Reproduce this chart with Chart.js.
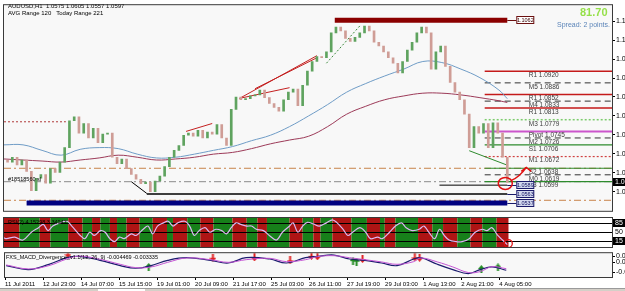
<!DOCTYPE html>
<html>
<head>
<meta charset="utf-8">
<title>AUDUSD H1</title>
<script src="https://cdn.jsdelivr.net/npm/chart.js@4.4.1/dist/chart.umd.min.js"></script>
<style>
  html, body { margin: 0; padding: 0; background: #fff; }
  #wrap { position: relative; width: 625px; height: 291px; overflow: hidden; background: #fff;
          font-family: "Liberation Sans", Arial, sans-serif; }
  #wrap canvas { position: absolute; left: 0; }
  .lbl { position: absolute; white-space: nowrap; line-height: 1; }
  #tabs { position: absolute; left: 0; top: 288px; width: 625px; height: 3px; background: #d4d0c8; border-top: 1px solid #9a9a9a; }
  #tabs div { position: absolute; left: 98px; top: 0; width: 47px; height: 3px; background: #fff; }
</style>
</head>
<body>
<div id="wrap">
  <canvas id="priceChart" width="625" height="216" style="top:0"></canvas>
  <canvas id="oscChart" width="625" height="32" style="top:216px"></canvas>
  <canvas id="macdChart" width="625" height="40" style="top:248px"></canvas>
  <div class="lbl" style="left:580px;top:7px;font-size:11px;font-weight:bold;color:#96e04a">81.70</div>
  <div class="lbl" style="left:557px;top:21px;font-size:7px;color:#5b84b8">Spread: 2 points.</div>
  <div id="tabs"><div></div></div>
</div>
<script>
'use strict';

// ---- values ----
// closes every 4 hourly bars, from 11 Jul 2011 to 4 Aug 2011
var closes = [
  1.0656, 1.0670, 1.0648, 1.0662, 1.0629, 1.0573, 1.0609, 1.0620, 1.0595, 1.0637,
  1.0626, 1.0656, 1.0698, 1.0776, 1.0787, 1.0740, 1.0768, 1.0726, 1.0754, 1.0712,
  1.0737, 1.0740, 1.0670, 1.0651, 1.0665, 1.0637, 1.0620, 1.0606, 1.0593, 1.0598,
  1.0570, 1.0601, 1.0615, 1.0643, 1.0670, 1.0690, 1.0704, 1.0734, 1.0740, 1.0731,
  1.0748, 1.0726, 1.0743, 1.0737, 1.0765, 1.0726, 1.0704, 1.0809, 1.0845, 1.0837,
  1.0840, 1.0848, 1.0851, 1.0865, 1.0843, 1.0826, 1.0815, 1.0804, 1.0837, 1.0859,
  1.0868, 1.0820, 1.0879, 1.0920, 1.0948, 1.0962, 1.0959, 1.0976, 1.1031, 1.1048,
  1.1037, 1.1015, 1.1006, 1.1018, 1.1031, 1.1051, 1.1037, 1.1004, 1.0993, 1.0976,
  1.0959, 1.0943, 1.0915, 1.0948, 1.0981, 1.1004, 1.1031, 1.1048, 1.1031, 1.0926,
  1.0976, 1.0993, 1.0934, 1.0887, 1.0859, 1.0837, 1.0795, 1.0698, 1.0759, 1.0740,
  1.0768, 1.0698, 1.0770, 1.0740, 1.0670, 1.0597
];
var firstOpen = 1.0662;

var maIdx = [0, 16, 32, 48, 64, 80, 96, 112, 128, 144, 160, 176, 192, 208, 224, 240, 256, 272, 288, 304, 320, 336, 352, 368, 384, 400, 416, 423];
var maFast = [1.0706, 1.0706, 1.0690, 1.0676, 1.0693, 1.0698, 1.0695, 1.0679, 1.0668, 1.0670, 1.0679, 1.0690, 1.0701, 1.0718,
              1.0734, 1.0759, 1.0790, 1.0823, 1.0859, 1.0884, 1.0906, 1.0926, 1.0948, 1.0945, 1.0926, 1.0901, 1.0865, 1.0840];
var maSlow = [1.0665, 1.0662, 1.0659, 1.0656, 1.0662, 1.0668, 1.0676, 1.0670, 1.0662, 1.0665, 1.0670, 1.0679, 1.0684, 1.0695,
              1.0709, 1.0720, 1.0731, 1.0759, 1.0795, 1.0818, 1.0837, 1.0848, 1.0856, 1.0856, 1.0851, 1.0843, 1.0834, 1.0829];

var priceTicks = [1.1065, 1.1010, 1.0955, 1.0900, 1.0845, 1.0790, 1.0735, 1.0680, 1.0625, 1.0570];
var timeTicks = [0, 32, 64, 96, 128, 160, 192, 224, 256, 288, 320, 352, 384, 416];
var timeLabels = ['11 Jul 2011', '12 Jul 23:00', '14 Jul 07:00', '15 Jul 15:00', '19 Jul 01:00', '20 Jul 09:00', '21 Jul 17:00',
                  '25 Jul 03:00', '26 Jul 11:00', '27 Jul 19:00', '29 Jul 03:00', '1 Aug 13:00', '2 Aug 21:00', '4 Aug 05:00'];

var pivotNames = ['R1', 'M5', 'R1', 'M4', 'R1', 'M3', 'Pivot', 'M2', 'S1', 'M1', 'S2', 'M0', 'S3'];
var pivotValues = [1.0920, 1.0886, 1.0852, 1.0833, 1.0813, 1.0779, 1.0745, 1.0726, 1.0706, 1.0672, 1.0638, 1.0619, 1.0599];

var tradeLevels = [1.0638, 1.0599, 1.0545];
var prevDayHigh = 1.0773;
var zoneTop = 1.1068, zoneTopLabel = 1.1062;
var zoneBottom = 1.0537;
var supportLevel = 1.0563;
var entryLevel = 1.0589;
var lastPrice = 1.0597;

// drawn trend lines: [x1, y1, x2, y2] in bar index / price
var redTrends = [[198, 1.0841, 263, 1.0965], [211, 1.0869, 263, 1.0959], [198, 1.0841, 240, 1.0872], [153, 1.0745, 175, 1.0768]];
var greenTrends = [[271, 1.0943, 300, 1.1055]];
var blackTrends = [[107, 1.0599, 120, 1.0565]];
var supportTrend = [391, 1.0689, 423, 1.0647];

// oscillator panel
var bandEdges = [0, 13, 30, 39, 54, 66, 74, 81, 89, 95, 103, 114, 125, 137, 142, 154, 165, 176, 192, 204, 213, 221, 240,
                 251, 260, 266, 276, 292, 305, 316, 320, 329, 348, 360, 369, 381, 392, 402, 414, 424];
var oscIdx = [0, 2, 9, 16, 23, 29, 33, 37, 41, 47, 53, 57, 64, 68, 72, 76, 81, 85, 89, 93, 97, 101, 107, 111, 117, 121, 125, 129,
              134, 138, 142, 146, 152, 156, 160, 164, 169, 173, 178, 183, 187, 191, 195, 199, 204, 208, 212, 218, 223, 229, 234,
              240, 243, 247, 251, 255, 260, 265, 271, 276, 280, 285, 289, 293, 299, 304, 308, 314, 318, 324, 329, 334, 338, 343,
              349, 353, 357, 362, 366, 370, 374, 380, 385, 391, 396, 402, 406, 410, 415, 419, 423];
var oscVal = [28, 25, 31, 20, 49, 66, 78, 55, 72, 84, 90, 72, 37, 25, 49, 37, 55, 49, 25, 14, 31, 25, 43, 37, 60, 72, 43, 72,
              84, 90, 72, 84, 90, 72, 37, 55, 66, 49, 60, 55, 43, 66, 84, 78, 72, 72, 60, 55, 37, 20, 49,
              72, 84, 49, 72, 86, 80, 72, 84, 95, 84, 60, 37, 49, 66, 49, 25, 31, 25, 49, 72, 84, 66, 55,
              60, 72, 49, 25, 60, 37, 20, 14, 14, 25, 49, 60, 55, 66, 37, 20, 3];
var oscLevels = [85, 50, 15];

// MACD panel
var macdIdx = [1, 20, 37, 52, 63, 80, 97, 110, 123, 137, 153, 173, 188, 203, 223, 237, 253, 263, 277, 290, 303, 317, 330, 344, 350, 364, 377, 390, 400, 410, 422];
var macdMain = [-0.001, -0.004, 0, 0.005, 0.006, 0.003, -0.001, -0.003, -0.001, 0.003, 0.005, 0.003, 0.001, 0.005, 0.004, 0.001,
                0.005, 0.006, 0.007, 0.004, 0.003, 0.001, -0.001, 0.004, 0.005, 0, -0.004, -0.007, -0.004, -0.002, -0.004469];
var macdSignal = [-0.0005, -0.0035, -0.001, 0.004, 0.0062, 0.0038, 0, -0.0025, -0.002, 0.0015, 0.0048, 0.0035, 0.0015, 0.0035, 0.0045, 0.002,
                  0.0035, 0.0058, 0.0065, 0.005, 0.0035, 0.0018, 0, 0.002, 0.0048, 0.0018, -0.002, -0.0062, -0.0055, -0.0018, -0.003335];
var sellIdx = [53, 175, 210, 240, 258, 263, 301, 345, 349];
var sellVal = [0.0076, 0.005, 0.0052, 0.003, 0.0064, 0.006, 0.004, 0.0052, 0.005];
var buyIdx = [121, 293, 296, 401, 415];
var buyVal = [-0.002, 0.0024, 0.002, -0.0036, -0.0024];
var macdTicks = [0.0061, 0.0016, -0.0061];

// ---- layout ----
var xMin = 0, xMax = 511;
var candleStart = 3, candleStep = 4;
var lastIdx = candleStart + (closes.length - 1) * candleStep;
var pivotFrom = 404, pivotLabelAt = 441;
var FONT = '"Liberation Sans", Arial, sans-serif';

var pivotLook = {
  R1: ['#c41a1a', 1.5, []],
  M5: ['#333333', 1, [6, 4]],
  M4: ['#333333', 1, [6, 4]],
  M3: ['#7ccc6c', 1.5, [2, 2]],
  Pivot: ['#cc55cc', 2, []],
  M2: ['#333333', 1, [6, 4]],
  S1: ['#2e8b2e', 1.2, []],
  M1: ['#d04040', 1.2, [2, 2]],
  S2: ['#2e8b2e', 1.2, []],
  M0: ['#333333', 1, [6, 4]],
  S3: ['#2e8b2e', 1.2, []]
};
var tradeColors = ['#c8844a', '#8a8a8a', '#c8844a'];

var xScale = function (display) {
  return { type: 'linear', min: xMin, max: xMax, display: display, offset: false };
};

var segment = function (x0, y0, x1, y1, color, width, dash, order) {
  return {
    type: 'line', data: [{ x: x0, y: y0 }, { x: x1, y: y1 }],
    borderColor: color, borderWidth: width, borderDash: dash || [],
    pointRadius: 0, tension: 0, order: order || 6
  };
};

var points = function (xs, ys) {
  return xs.map(function (x, i) { return { x: x, y: ys[i] }; });
};

var textAt = function (ctx, str, x, y, size, color, align) {
  ctx.font = size + 'px ' + FONT;
  ctx.fillStyle = color;
  ctx.textAlign = align || 'left';
  ctx.textBaseline = 'middle';
  ctx.fillText(str, x, y);
};

var fillArea = function (color) {
  return {
    id: 'fill' + color.replace('#', ''),
    beforeDraw: function (chart) {
      var a = chart.chartArea;
      chart.ctx.save();
      chart.ctx.fillStyle = color;
      chart.ctx.fillRect(a.left, a.top, a.right - a.left, a.bottom - a.top);
      chart.ctx.restore();
    }
  };
};

var frame = function (chart) {
  var a = chart.chartArea, ctx = chart.ctx;
  ctx.save();
  ctx.strokeStyle = '#3a3a3a';
  ctx.lineWidth = 1;
  ctx.strokeRect(a.left - 0.5, a.top - 0.5, a.right - a.left + 1, a.bottom - a.top + 1);
  ctx.restore();
};

// ---- price window ----
var candleData = closes.map(function (c, k) {
  return { x: candleStart + k * candleStep, y: [k ? closes[k - 1] : firstOpen, c] };
});
var candleColors = candleData.map(function (d) {
  return d.y[1] >= d.y[0] ? '#5fa35f' : '#cf9d96';
});

var priceSets = [];
priceSets.push(segment(278, zoneTop, lastIdx, zoneTop, '#8b0000', 5, [], 1));
priceSets.push(segment(19, zoneBottom, lastIdx, zoneBottom, '#000080', 5, [], 1));
priceSets.push({
  type: 'bar', data: candleData, backgroundColor: candleColors,
  barThickness: 2, order: 2
});
priceSets.push({ type: 'line', data: points(maIdx, maFast), borderColor: '#6f9cc6', borderWidth: 1, pointRadius: 0, tension: 0.4, order: 3 });
priceSets.push({ type: 'line', data: points(maIdx, maSlow), borderColor: '#9c3a58', borderWidth: 1, pointRadius: 0, tension: 0.4, order: 3 });
pivotValues.forEach(function (v, i) {
  var look = pivotLook[pivotNames[i]];
  priceSets.push(segment(pivotFrom, v, xMax, v, look[0], look[1], look[2]));
});
tradeLevels.forEach(function (v, i) {
  priceSets.push(segment(xMin, v, xMax, v, tradeColors[i], 1, [7, 3, 2, 3]));
});
priceSets.push(segment(xMin, prevDayHigh, 52, prevDayHigh, '#b03a3a', 1, [2, 2]));
priceSets.push(segment(120, supportLevel, lastIdx, supportLevel, '#000', 1.5, [], 4));
priceSets.push(segment(366, entryLevel, lastIdx, entryLevel, '#000', 1, [], 4));
redTrends.forEach(function (t) { priceSets.push(segment(t[0], t[1], t[2], t[3], '#c42020', 1, [], 4)); });
greenTrends.forEach(function (t) { priceSets.push(segment(t[0], t[1], t[2], t[3], '#3a8a3a', 1, [2, 2], 4)); });
blackTrends.forEach(function (t) { priceSets.push(segment(t[0], t[1], t[2], t[3], '#000', 1, [], 4)); });
priceSets.push(segment(supportTrend[0], supportTrend[1], supportTrend[2], supportTrend[3], '#2e8b2e', 1, [], 4));

var priceDeco = {
  id: 'priceDeco',
  afterDatasetsDraw: function (chart) {
    var ctx = chart.ctx, xs = chart.scales.x, ys = chart.scales.y;
    ctx.save();
    var lx = xs.getPixelForValue(pivotLabelAt);
    pivotNames.forEach(function (n, i) {
      textAt(ctx, n + ' ' + pivotValues[i].toFixed(4), lx, ys.getPixelForValue(pivotValues[i]) + 4, 6.5, '#3c3c3c');
    });

    var xe = xs.getPixelForValue(lastIdx);
    var box = function (v, label, fill, edge, ink) {
      var y = Math.round(ys.getPixelForValue(v));
      ctx.strokeStyle = edge;
      ctx.lineWidth = 1;
      ctx.beginPath(); ctx.moveTo(xe, y + 0.5); ctx.lineTo(xe + 9, y + 0.5); ctx.stroke();
      ctx.fillStyle = fill;
      ctx.fillRect(xe + 9.5, y - 3.5, 17, 7);
      ctx.strokeRect(xe + 9.5, y - 3.5, 17, 7);
      textAt(ctx, label, xe + 18, y + 0.5, 5.5, ink, 'center');
    };
    box(zoneTop, zoneTopLabel.toFixed(4), '#fff', '#6b1010', '#3a0000');
    box(entryLevel, entryLevel.toFixed(4), '#d2d8ee', '#1a1a6a', '#101060');
    box(supportLevel, supportLevel.toFixed(4), '#d2d8ee', '#1a1a6a', '#101060');
    box(zoneBottom, zoneBottom.toFixed(4), '#d2d8ee', '#1a1a6a', '#101060');

    // hand drawn circle and arrow at the last candle
    var cx = xe - 2, cy = ys.getPixelForValue(lastPrice) + 1;
    ctx.strokeStyle = '#e01010';
    ctx.lineWidth = 1.5;
    ctx.beginPath(); ctx.ellipse(cx, cy, 7, 6, 0, 0, Math.PI * 2); ctx.stroke();
    ctx.beginPath(); ctx.moveTo(cx + 6, cy - 3);
    ctx.quadraticCurveTo(cx + 14, cy - 6, cx + 21, cy - 16); ctx.stroke();
    ctx.beginPath(); ctx.moveTo(cx + 16, cy - 12); ctx.lineTo(cx + 21, cy - 16); ctx.lineTo(cx + 26, cy - 12); ctx.stroke();

    textAt(ctx, 'AUDUSD,H1  1.0575 1.0605 1.0557 1.0597', 8, 6, 6, '#000');
    textAt(ctx, 'AVG Range 120   Today Range 221', 8, 13, 6, '#000');
    textAt(ctx, '#18518560 sl', 8, ys.getPixelForValue(tradeLevels[1]) - 2, 5.5, '#000');
    ctx.restore();
    frame(chart);
  },
  afterDraw: function (chart) {
    var ctx = chart.ctx, a = chart.chartArea, y = Math.round(chart.scales.y.getPixelForValue(lastPrice));
    ctx.save();
    ctx.fillStyle = '#000';
    ctx.fillRect(a.right + 1, y - 4, 24, 8);
    textAt(ctx, lastPrice.toFixed(4), a.right + 3, y, 7, '#fff');
    ctx.restore();
  }
};

new Chart(document.getElementById('priceChart'), {
  type: 'bar',
  data: { datasets: priceSets },
  options: {
    responsive: false,
    animation: false,
    layout: { padding: { left: 4, top: 3, right: 0, bottom: 1 } },
    plugins: { legend: { display: false }, tooltip: { enabled: false } },
    scales: {
      x: xScale(false),
      y: {
        position: 'right', min: 1.05145, max: 1.11115,
        afterFit: function (s) { s.width = 13; },
        afterBuildTicks: function (s) { s.ticks = priceTicks.map(function (v) { return { value: v }; }); },
        ticks: { color: '#000', padding: 1, font: { size: 7, family: FONT }, callback: function (v) { return v.toFixed(4); } },
        grid: { drawOnChartArea: false, tickLength: 3, color: '#000' },
        border: { color: '#000' }
      }
    }
  },
  plugins: [fillArea('#f8f8f8'), priceDeco]
});

// ---- oscillator window ----
var oscDeco = {
  id: 'oscDeco',
  beforeDatasetsDraw: function (chart) {
    var ctx = chart.ctx, a = chart.chartArea, xs = chart.scales.x, ys = chart.scales.y;
    ctx.save();
    for (var i = 0; i < bandEdges.length - 1; i++) {
      var x0 = xs.getPixelForValue(bandEdges[i]), x1 = xs.getPixelForValue(bandEdges[i + 1]);
      ctx.fillStyle = i % 2 ? '#17801a' : '#ae1414';
      ctx.fillRect(x0, a.top, x1 - x0, a.bottom - a.top);
    }
    ctx.strokeStyle = '#000';
    ctx.lineWidth = 1;
    oscLevels.forEach(function (v) {
      var y = Math.round(ys.getPixelForValue(v)) + 0.5;
      ctx.beginPath(); ctx.moveTo(a.left, y); ctx.lineTo(a.right, y); ctx.stroke();
    });
    ctx.restore();
  },
  afterDatasetsDraw: function (chart) {
    var ctx = chart.ctx, a = chart.chartArea, xs = chart.scales.x, ys = chart.scales.y;
    ctx.save();
    ctx.strokeStyle = '#e01010';
    ctx.lineWidth = 1.3;
    ctx.beginPath();
    ctx.arc(xs.getPixelForValue(lastIdx) + 1, ys.getPixelForValue(oscVal[oscVal.length - 1]) - 1, 4, 0, Math.PI * 2);
    ctx.stroke();
    textAt(ctx, 'RSI(2) 4.15298 3.34947', 8, a.top + 4, 5.5, '#000');
    ctx.restore();
    frame(chart);
  },
  afterDraw: function (chart) {
    var ctx = chart.ctx, a = chart.chartArea, ys = chart.scales.y;
    ctx.save();
    oscLevels.forEach(function (v, i) {
      var y = Math.round(ys.getPixelForValue(v));
      if (i !== 1) {
        ctx.fillStyle = '#000';
        ctx.fillRect(a.right + 1, y - 4, 12, 8);
      }
      textAt(ctx, String(v), a.right + 3, y, 7, i !== 1 ? '#fff' : '#000');
    });
    ctx.restore();
  }
};

new Chart(document.getElementById('oscChart'), {
  type: 'line',
  data: {
    datasets: [{
      data: points(oscIdx, oscVal), borderColor: '#dcb8f2', borderWidth: 1.2,
      pointRadius: 0, tension: 0.35
    }]
  },
  options: {
    responsive: false,
    animation: false,
    layout: { padding: { left: 4, top: 2, right: 0, bottom: 1 } },
    plugins: { legend: { display: false }, tooltip: { enabled: false } },
    scales: {
      x: xScale(false),
      y: {
        position: 'right', min: -6, max: 102,
        afterFit: function (s) { s.width = 13; },
        ticks: { display: false },
        grid: { display: false },
        border: { color: '#000' }
      }
    }
  },
  plugins: [fillArea('#ffffff'), oscDeco]
});

// ---- MACD window ----
var arrowImg = function (color, up) {
  var c = document.createElement('canvas');
  c.width = 7; c.height = 8;
  var g = c.getContext('2d');
  g.fillStyle = color;
  g.beginPath();
  if (up) {
    g.moveTo(3.5, 0); g.lineTo(7, 4); g.lineTo(0, 4); g.fill();
    g.fillRect(2.5, 4, 2, 4);
  } else {
    g.fillRect(2.5, 0, 2, 4);
    g.moveTo(0, 4); g.lineTo(7, 4); g.lineTo(3.5, 8); g.fill();
  }
  return c;
};

var macdDeco = {
  id: 'macdDeco',
  afterDatasetsDraw: function (chart) {
    var ctx = chart.ctx, a = chart.chartArea;
    ctx.save();
    textAt(ctx, 'FXS_MACD_Divergence_v1.1(12, 26, 9) -0.004469 -0.003335', 6, a.top + 4, 5.5, '#000');
    ctx.restore();
    frame(chart);
  }
};

new Chart(document.getElementById('macdChart'), {
  type: 'line',
  data: {
    datasets: [
      { data: points(macdIdx, macdSignal), borderColor: '#c455d4', borderWidth: 1, pointRadius: 0, tension: 0.4 },
      { data: points(macdIdx, macdMain), borderColor: '#1c1c6e', borderWidth: 1.2, pointRadius: 0, tension: 0.4 },
      { data: points(sellIdx, sellVal), showLine: false, pointStyle: arrowImg('#e02020', false), pointRadius: 4 },
      { data: points(buyIdx, buyVal), showLine: false, pointStyle: arrowImg('#1f8a1f', true), pointRadius: 4 }
    ]
  },
  options: {
    responsive: false,
    animation: false,
    layout: { padding: { left: 4, top: 2, right: 0, bottom: 0 } },
    plugins: { legend: { display: false }, tooltip: { enabled: false } },
    scales: {
      x: {
        type: 'linear', min: xMin, max: xMax, offset: false,
        afterBuildTicks: function (s) { s.ticks = timeTicks.map(function (v) { return { value: v }; }); },
        afterFit: function (s) { s.height = 11; },
        ticks: {
          autoSkip: false, maxRotation: 0, align: 'start', padding: 1, color: '#000',
          font: { size: 6, family: FONT },
          callback: function (v, i) { return timeLabels[i]; }
        },
        grid: { drawOnChartArea: false, tickLength: 3, color: '#000' },
        border: { color: '#000' }
      },
      y: {
        position: 'right', min: -0.0096, max: 0.0084,
        afterFit: function (s) { s.width = 13; },
        afterBuildTicks: function (s) { s.ticks = macdTicks.map(function (v) { return { value: v }; }); },
        ticks: { color: '#000', padding: 1, font: { size: 7, family: FONT }, callback: function (v) { return v.toFixed(6); } },
        grid: { drawOnChartArea: false, tickLength: 3, color: '#000' },
        border: { color: '#000' }
      }
    }
  },
  plugins: [fillArea('#f8f8f8'), macdDeco]
});
</script>
</body>
</html>
